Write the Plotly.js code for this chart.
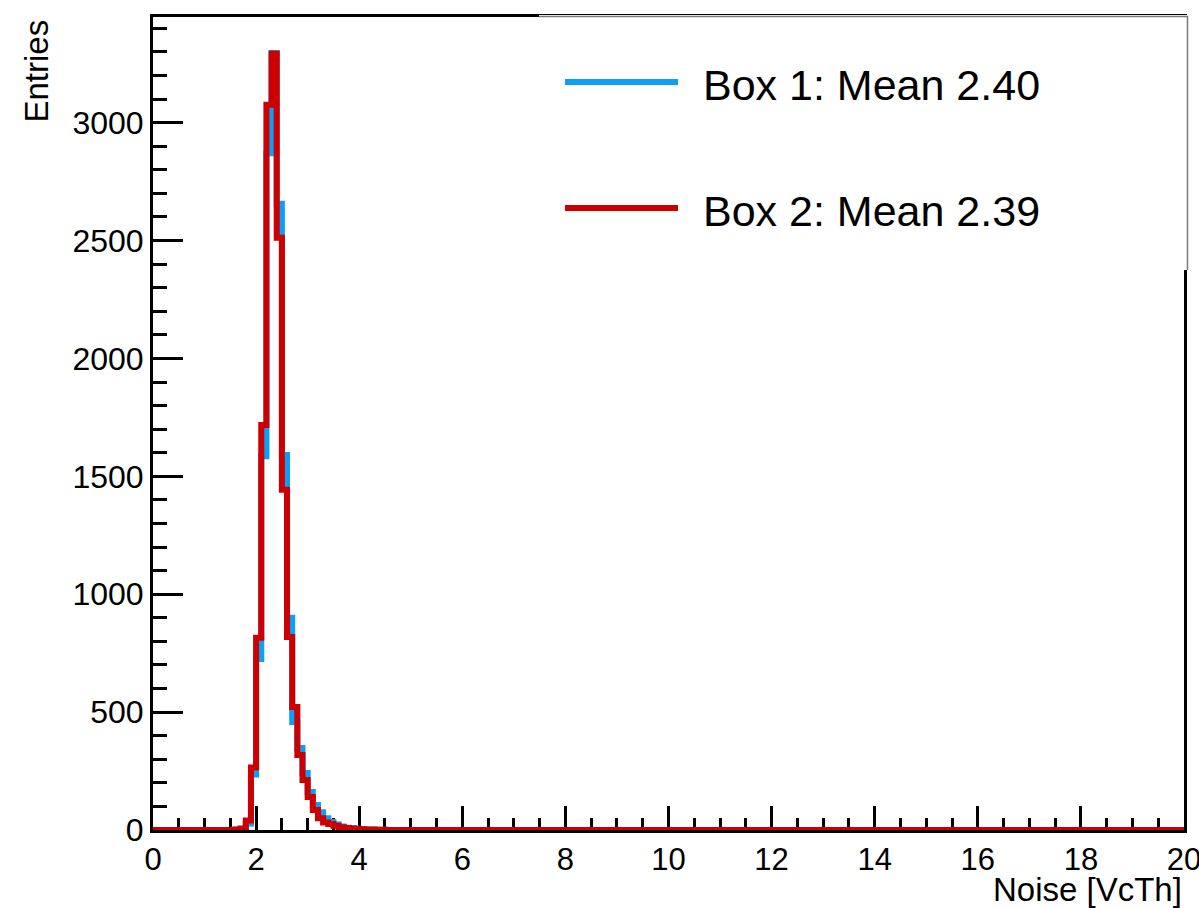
<!DOCTYPE html>
<html>
<head>
<meta charset="utf-8">
<script src="https://cdn.plot.ly/plotly-3.0.1.min.js"></script>
<style>
  html, body { margin: 0; padding: 0; background: #ffffff; }
  #chart { width: 1199px; height: 908px; }
</style>
</head>
<body>
<div id="chart"></div>
<script>
// Histogram bins (lower edges, width 0.1) where entries are non-zero; all other bins are 0
const binLowEdges = [1.6, 1.7, 1.8, 1.9, 2.0, 2.1, 2.2, 2.3, 2.4, 2.5, 2.6, 2.7, 2.8, 2.9, 3.0,
                     3.1, 3.2, 3.3, 3.4, 3.5, 3.6, 3.7, 3.8, 3.9, 4.0, 4.1, 4.2, 4.3, 4.4, 4.5];
const box1Counts = [1, 4, 28, 235, 725, 1585, 2870, 3295, 2656, 1590, 900, 458, 348, 242, 161,
                    106, 75, 50, 34, 23, 15, 10, 7, 5, 3, 2, 2, 1, 1, 0];
const box2Counts = [2, 6, 40, 265, 815, 1718, 3076, 3292, 2512, 1443, 819, 522, 318, 212, 140,
                    85, 50, 32, 25, 18, 12, 9, 6, 4, 3, 2, 2, 1, 1, 0];
const histRange = [0, 20];
const legendLabels = ["Box 1: Mean 2.40", "Box 2: Mean 2.39"];
const xTitle = "Noise [VcTh]";
const yTitle = "Entries";

const FONT = "Liberation Sans, Arial, Helvetica, sans-serif";
const BLUE = "#0d9ef5";
const RED = "#cc0000";

function stepTrace(counts, name, color) {
  const xs = [histRange[0]].concat(binLowEdges, [histRange[1]]);
  const ys = [0].concat(counts, [0]);
  return {
    type: "scatter", mode: "lines", name: name,
    x: xs, y: ys,
    line: { shape: "hv", color: color, width: 6 },
    cliponaxis: false, showlegend: false, hoverinfo: "skip"
  };
}

const traces = [
  stepTrace(box1Counts, legendLabels[0], BLUE),
  stepTrace(box2Counts, legendLabels[1], RED)
];

// pixel helpers for the plot frame (decoration placement only)
const L = 153, R = 1184, T = 17, B = 830;
const W = 1199, H = 908;
const px = v => (v - L) / (R - L);
const py = v => (B - v) / (B - T);

const layout = {
  width: W, height: H,
  margin: { l: L, r: W - R, t: T, b: H - B, pad: 0 },
  paper_bgcolor: "#ffffff",
  plot_bgcolor: "#ffffff",
  showlegend: false,
  font: { family: FONT, color: "#000000", size: 32 },
  xaxis: {
    range: histRange,
    dtick: 2, tick0: 0,
    ticks: "inside", ticklen: 24, tickwidth: 3, tickcolor: "#000",
    showline: true, linewidth: 3, linecolor: "#000", mirror: true,
    showgrid: false, zeroline: false, layer: "below traces",
    ticklabeloverflow: "allow",
    tickfont: { family: FONT, size: 31, color: "#000" },
    minor: { dtick: 0.5, ticks: "inside", ticklen: 12, tickwidth: 3, tickcolor: "#000", showgrid: false },
    fixedrange: true
  },
  yaxis: {
    range: [0, 3448],
    dtick: 500, tick0: 0,
    ticks: "inside", ticklen: 30, tickwidth: 3, tickcolor: "#000",
    showline: true, linewidth: 3, linecolor: "#000", mirror: true,
    showgrid: false, zeroline: false, layer: "below traces",
    ticklabeloverflow: "allow",
    tickfont: { family: FONT, size: 32, color: "#000" },
    minor: { dtick: 100, ticks: "inside", ticklen: 14, tickwidth: 3, tickcolor: "#000", showgrid: false },
    fixedrange: true
  },
  shapes: [
    // legend box (white fill, covers the frame in the top-right corner)
    { type: "rect", xref: "paper", yref: "paper", layer: "above",
      x0: px(539), x1: px(1189), y0: py(270), y1: py(15),
      fillcolor: "#ffffff", line: { width: 0 } },
    // thin grey frame edges of the legend area
    { type: "path", xref: "paper", yref: "paper", layer: "above",
      path: "M " + px(539) + "," + py(16.5) + " L " + px(1187.5) + "," + py(16.5) +
            " L " + px(1187.5) + "," + py(270),
      line: { color: "#7a7a7a", width: 1.5 } },
    // legend line samples
    { type: "line", xref: "paper", yref: "paper", layer: "above",
      x0: px(565), x1: px(678), y0: py(82), y1: py(82),
      line: { color: BLUE, width: 6 } },
    { type: "line", xref: "paper", yref: "paper", layer: "above",
      x0: px(565), x1: px(678), y0: py(208), y1: py(208),
      line: { color: RED, width: 6 } }
  ],
  annotations: [
    { text: legendLabels[0], xref: "paper", yref: "paper", x: px(701), y: py(85),
      xanchor: "left", yanchor: "middle", showarrow: false,
      font: { family: FONT, size: 43, color: "#000" } },
    { text: legendLabels[1], xref: "paper", yref: "paper", x: px(701), y: py(211),
      xanchor: "left", yanchor: "middle", showarrow: false,
      font: { family: FONT, size: 43, color: "#000" } },
    { text: xTitle, xref: "paper", yref: "paper", x: px(1184), y: py(890),
      xanchor: "right", yanchor: "middle", showarrow: false,
      font: { family: FONT, size: 33, color: "#000" } },
    { text: yTitle, xref: "paper", yref: "paper", x: px(36), y: py(18),
      xanchor: "center", yanchor: "top", textangle: -90, showarrow: false,
      font: { family: FONT, size: 33, color: "#000" } }
  ]
};

Plotly.newPlot("chart", traces, layout, { displayModeBar: false, staticPlot: true });
</script>
</body>
</html>
